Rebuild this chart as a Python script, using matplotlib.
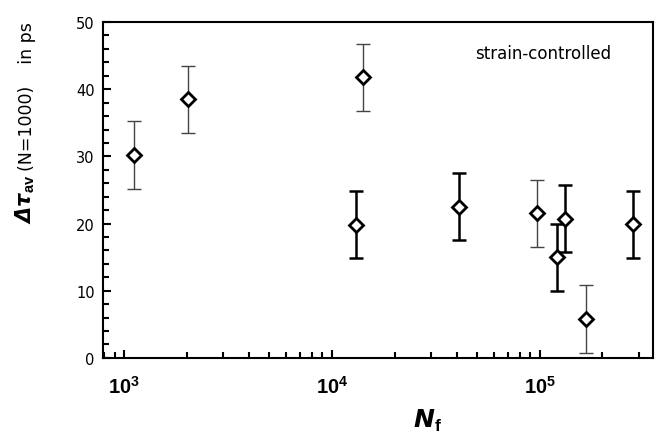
import numpy as np
import matplotlib
matplotlib.use("Agg")
import matplotlib.pyplot as plt
from matplotlib.font_manager import FontProperties
from matplotlib.ticker import LogLocator, MultipleLocator, NullFormatter

plt.rcParams['font.family'] = ['DejaVu Sans']
plt.rcParams['mathtext.fontset'] = 'custom'
plt.rcParams['mathtext.rm'] = 'Liberation Sans:bold'
plt.rcParams['mathtext.bf'] = 'DejaVu Sans:bold:italic'

# cycles to failure and lifetime change (ps), with +/- error
nf = [1120, 2030, 13000, 14100, 40800, 96800, 120700, 131900, 166400, 280000]
dtau = [30.2, 38.5, 19.8, 41.8, 22.5, 21.5, 15.0, 20.7, 5.8, 19.9]
err = [5, 5, 5, 5, 5, 5, 5, 5, 5, 5]
# heavier stroke for some of the bars
bar_lw = [1.0, 1.0, 1.8, 1.0, 1.8, 1.0, 1.8, 1.8, 1.0, 1.8]

fig = plt.figure(figsize=(6.56, 4.35), dpi=100)
ax = fig.add_axes([0.157, 0.175, 0.838, 0.772])

for x, y, e, lw in zip(nf, dtau, err, bar_lw):
    ax.errorbar(x, y, yerr=e, fmt='none', ecolor='black' if lw > 1.5 else '#444444',
                elinewidth=lw, capsize=4.7, capthick=lw)
ax.plot(nf, dtau, 'D', ms=7, mfc='white', mec='black', mew=2, zorder=5)

ax.set_xscale('log')
ax.set_xlim(790, 3.5e5)
ax.set_ylim(0, 50)
ax.xaxis.set_major_locator(LogLocator(base=10, numticks=10))
ax.xaxis.set_minor_locator(LogLocator(base=10, subs=np.arange(2, 10), numticks=20))
ax.xaxis.set_minor_formatter(NullFormatter())
ax.yaxis.set_major_locator(MultipleLocator(10))
ax.yaxis.set_minor_locator(MultipleLocator(2))

ax.tick_params(which='both', direction='in', top=False, right=False, width=1.5)
ax.tick_params(which='major', length=6)
ax.tick_params(which='minor', length=4)
ax.tick_params(axis='y', labelsize=10.5, pad=6)
ax.tick_params(axis='x', pad=12)
fig.canvas.draw()
xfont = FontProperties(family='Liberation Sans', weight='bold', size=14.5)
for lab in ax.get_xticklabels():
    lab.set_fontproperties(xfont)
for s in ax.spines.values():
    s.set_linewidth(1.5)

ax.text(475 / 656, 1 - 59 / 435, 'strain-controlled', transform=fig.transFigure,
        fontsize=12, va='baseline')

fig.text(428 / 656, 1 - 421 / 435, r'$\mathbf{N}_\mathrm{f}$', fontsize=18,
         ha='center', va='center')
fig.text(25 / 656, 1 - 199 / 435, r'$\mathbf{\Delta\tau}_\mathrm{av}$', fontsize=15,
         rotation=90, ha='center', va='center')
fig.text(27 / 656, 1 - 97 / 435, '(N=1000)    in ps', fontsize=12.5,
         rotation=90, ha='center', va='center')

fig.savefig('out.png', dpi=100)
